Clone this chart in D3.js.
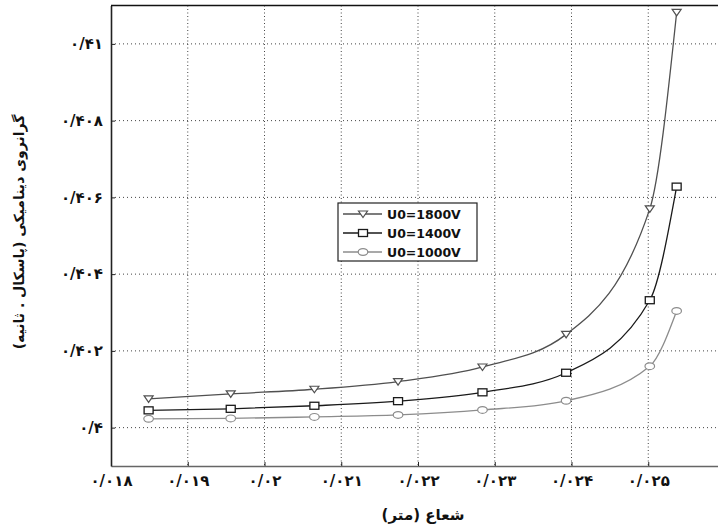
<!DOCTYPE html>
<html>
<head>
<meta charset="utf-8">
<script src="https://cdn.jsdelivr.net/npm/d3@7"></script>
<style>
  body { margin: 0; background: #fff; }
  svg { display: block; }
</style>
</head>
<body>
<script>
// radius (m) at each measurement
var radius = [0.01849, 0.01956, 0.02065, 0.02174, 0.02284, 0.02393, 0.02502, 0.02537];
// dynamic viscosity for each voltage
var visc1800 = [0.40075, 0.40088, 0.40100, 0.40120, 0.40158, 0.40243, 0.40570, 0.41082];
var visc1400 = [0.40045, 0.40049, 0.40057, 0.40069, 0.40092, 0.40143, 0.40332, 0.40628];
var visc1000 = [0.40023, 0.40024, 0.40028, 0.40033, 0.40046, 0.40070, 0.40160, 0.40304];
var seriesNames = ['U0=1800V', 'U0=1400V', 'U0=1000V'];

var xTicks = [0.018, 0.019, 0.020, 0.021, 0.022, 0.023, 0.024, 0.025];
var xTickLabels = ['۰/۰۱۸', '۰/۰۱۹', '۰/۰۲', '۰/۰۲۱', '۰/۰۲۲', '۰/۰۲۳', '۰/۰۲۴', '۰/۰۲۵'];
var yTicks = [0.400, 0.402, 0.404, 0.406, 0.408, 0.410];
var yTickLabels = ['۰/۴', '۰/۴۰۲', '۰/۴۰۴', '۰/۴۰۶', '۰/۴۰۸', '۰/۴۱'];

var xTitle = 'شعاع (متر)';
var yTitle = 'گرانروی دینامیکی (پاسکال . ثانیه)';

var W = 718, H = 532;
var svg = d3.select('body').append('svg').attr('width', W).attr('height', H);

var x = d3.scaleLinear().domain([0.018, 0.026]).range([111, 725]);
var y = d3.scaleLinear().domain([0.399, 0.411]).range([466, 5.5]);

var series = [
  { name: seriesNames[0], values: visc1800, color: '#505050', marker: 'tri' },
  { name: seriesNames[1], values: visc1400, color: '#1a1a1a', marker: 'sq' },
  { name: seriesNames[2], values: visc1000, color: '#8c8c8c', marker: 'circ' }
];

// dotted grid
var grid = svg.append('g');
grid.selectAll('line.vx')
  .data(xTicks.slice(1))
  .enter().append('line')
  .attr('x1', function(d) { return x(d); })
  .attr('x2', function(d) { return x(d); })
  .attr('y1', y.range()[1]).attr('y2', y.range()[0])
  .attr('stroke', '#444').attr('stroke-width', 1)
  .attr('stroke-dasharray', '1,2.5');
grid.selectAll('line.hy')
  .data(yTicks)
  .enter().append('line')
  .attr('x1', x.range()[0]).attr('x2', x.range()[1])
  .attr('y1', function(d) { return y(d); })
  .attr('y2', function(d) { return y(d); })
  .attr('stroke', '#444').attr('stroke-width', 1)
  .attr('stroke-dasharray', '1,3');

// axes
var xAxis = d3.axisBottom(x).tickValues(xTicks).tickSizeInner(-4).tickSizeOuter(0)
  .tickPadding(9)
  .tickFormat(function(d, i) { return xTickLabels[i]; });
var yAxis = d3.axisLeft(y).tickValues(yTicks).tickSizeInner(-4).tickSizeOuter(0)
  .tickPadding(8)
  .tickFormat(function(d, i) { return yTickLabels[i]; });

var gx = svg.append('g').attr('transform', 'translate(0,' + y.range()[0] + ')').call(xAxis);
var gy = svg.append('g').attr('transform', 'translate(' + x.range()[0] + ',0)').call(yAxis);
[gx, gy].forEach(function(g) {
  g.select('.domain').attr('stroke', '#222').attr('stroke-width', 1.6);
  g.selectAll('.tick line').attr('stroke', '#222');
  g.selectAll('.tick text')
    .attr('font-family', 'DejaVu Sans, sans-serif')
    .attr('font-weight', 'bold')
    .attr('font-size', 15)
    .attr('fill', '#111');
});
gx.select('.domain').attr('stroke', '#666');

// top frame line
svg.append('line')
  .attr('x1', x.range()[0]).attr('x2', x.range()[1])
  .attr('y1', y.range()[1]).attr('y2', y.range()[1])
  .attr('stroke', '#111').attr('stroke-width', 1.6);

// curves
var line = d3.line()
  .x(function(d, i) { return x(radius[i]); })
  .y(function(d) { return y(d); })
  .curve(d3.curveMonotoneX);

function drawMarker(g, type, cx, cy, color) {
  if (type === 'tri') {
    g.append('path')
      .attr('d', 'M' + (cx - 4.5) + ',' + (cy - 3) + 'L' + (cx + 4.5) + ',' + (cy - 3) + 'L' + cx + ',' + (cy + 3.5) + 'Z')
      .attr('fill', '#fff').attr('stroke', color).attr('stroke-width', 1.2);
  } else if (type === 'sq') {
    g.append('rect')
      .attr('x', cx - 4.5).attr('y', cy - 3.5).attr('width', 9).attr('height', 7)
      .attr('fill', '#fff').attr('stroke', color).attr('stroke-width', 1.3);
  } else {
    g.append('ellipse')
      .attr('cx', cx).attr('cy', cy).attr('rx', 4.8).attr('ry', 3.4)
      .attr('fill', '#fff').attr('stroke', color).attr('stroke-width', 1.2);
  }
}

series.forEach(function(s) {
  var g = svg.append('g');
  g.append('path')
    .attr('d', line(s.values))
    .attr('fill', 'none')
    .attr('stroke', s.color)
    .attr('stroke-width', 1.3);
  s.values.forEach(function(v, i) {
    drawMarker(g, s.marker, x(radius[i]), y(v), s.color);
  });
});

// legend
var lg = svg.append('g').attr('transform', 'translate(338,203)');
lg.append('rect').attr('width', 139).attr('height', 58)
  .attr('fill', '#fff').attr('stroke', '#222').attr('stroke-width', 1.2);
series.forEach(function(s, i) {
  var yy = 11 + i * 19;
  lg.append('line').attr('x1', 5).attr('x2', 44).attr('y1', yy).attr('y2', yy)
    .attr('stroke', s.color).attr('stroke-width', 1.3);
  drawMarker(lg, s.marker, 25, yy, s.color);
  lg.append('text')
    .attr('x', 49).attr('y', yy + 4.5)
    .attr('font-family', 'DejaVu Sans, sans-serif')
    .attr('font-weight', 'bold')
    .attr('font-size', 12.5)
    .attr('fill', '#111')
    .text(s.name);
});

// axis titles
svg.append('text')
  .attr('x', 423).attr('y', 520)
  .attr('text-anchor', 'middle')
  .attr('direction', 'rtl')
  .attr('font-family', 'DejaVu Sans, sans-serif')
  .attr('font-weight', 'bold')
  .attr('font-size', 15)
  .attr('fill', '#111')
  .text(xTitle);
svg.append('text')
  .attr('transform', 'translate(24,232) rotate(-90)')
  .attr('text-anchor', 'middle')
  .attr('direction', 'rtl')
  .attr('font-family', 'DejaVu Sans, sans-serif')
  .attr('font-weight', 'bold')
  .attr('font-size', 14)
  .attr('fill', '#111')
  .text(yTitle);
</script>
</body>
</html>
